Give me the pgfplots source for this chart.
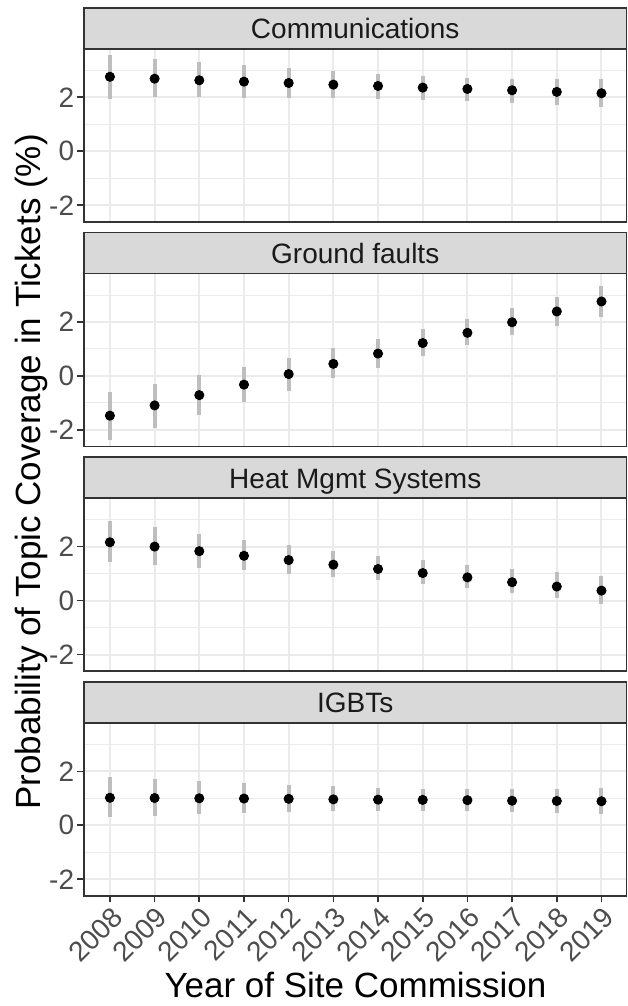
\documentclass[border=0pt]{standalone}
\usepackage{fontspec}
\setmainfont{Liberation Sans}
\usepackage{pgfplots}
\usepackage{pgfplotstable}
\pgfplotsset{compat=1.18}
\definecolor{grey20}{HTML}{333333}
\definecolor{grey30}{HTML}{4D4D4D}
\definecolor{grey10}{HTML}{1A1A1A}
\definecolor{gridgrey}{HTML}{EBEBEB}
\definecolor{stripgrey}{HTML}{D9D9D9}
\definecolor{bargrey}{HTML}{BEBEBE}

% x = year index (1 = 2008), y = estimate, lo/hi = interval ends
\pgfplotstableread{
x y lo hi
1 2.76 1.95 3.56
2 2.69 2.00 3.42
3 2.63 2.00 3.31
4 2.58 1.99 3.19
5 2.53 1.99 3.09
6 2.47 1.98 2.98
7 2.42 1.95 2.88
8 2.36 1.91 2.79
9 2.31 1.85 2.73
10 2.26 1.79 2.69
11 2.20 1.72 2.67
12 2.15 1.63 2.66
}\comms
\pgfplotstableread{
x y lo hi
1 -1.47 -2.39 -0.58
2 -1.09 -1.91 -0.30
3 -0.71 -1.45 0.02
4 -0.32 -0.98 0.35
5 0.07 -0.55 0.68
6 0.45 -0.09 1.03
7 0.83 0.31 1.38
8 1.22 0.75 1.74
9 1.60 1.13 2.11
10 1.99 1.50 2.51
11 2.39 1.84 2.93
12 2.76 2.17 3.35
}\ground
\pgfplotstableread{
x y lo hi
1 2.16 1.43 2.94
2 2.00 1.32 2.73
3 1.83 1.20 2.48
4 1.66 1.12 2.26
5 1.50 0.99 2.06
6 1.33 0.88 1.85
7 1.17 0.76 1.66
8 1.02 0.60 1.49
9 0.86 0.45 1.33
10 0.68 0.27 1.17
11 0.52 0.09 1.06
12 0.37 -0.12 0.92
}\heat
\pgfplotstableread{
x y lo hi
1 1.02 0.30 1.79
2 1.01 0.35 1.72
3 1.00 0.42 1.64
4 0.99 0.47 1.57
5 0.98 0.49 1.51
6 0.96 0.52 1.44
7 0.95 0.52 1.38
8 0.94 0.52 1.36
9 0.93 0.52 1.35
10 0.91 0.48 1.35
11 0.90 0.44 1.36
12 0.89 0.40 1.37
}\igbt

\pgfplotsset{
  panel/.style={
    scale only axis, width=271.25pt, height=86.5pt, anchor=south west,
    xmin=0.42, xmax=12.56, ymin=-2.62, ymax=3.79,
    xtick={1,...,12}, ytick={-2,0,2}, yticklabels={-2,0,2},
    minor ytick={-3,-1,1,3},
    xmajorgrids, ymajorgrids, yminorgrids,
    major grid style={gridgrey, line width=1pt},
    minor grid style={gridgrey, line width=0.5pt},
    axis line style={grey20, line width=0.8pt},
    tick align=outside, tick pos=left,
    major tick length=3.25pt, minor tick length=0pt,
    tick style={grey20, line width=0.8pt},
    yticklabel style={font=\fontsize{14}{16}\selectfont, text=grey30, inner sep=1.5pt},
    clip=false,
  },
  bars/.style={only marks, mark=none, forget plot,
    error bars/.cd, y dir=both, y explicit, error mark=none,
    error bar style={bargrey, line width=2pt}},
  dots/.style={only marks, mark=*, mark size=2.3pt, black, mark options={fill=black, draw=black}},
}

\newcommand{\strip}[2]{%
  \draw[fill=stripgrey, draw=grey20, line width=0.8pt] (#1.north west) rectangle ([yshift=20.5pt]#1.north east);
  \node[anchor=base, text=grey10, font=\fontsize{14}{16}\selectfont, inner sep=0pt]
    at ([yshift=5pt]#1.north) {#2};}

\begin{document}
\begin{tikzpicture}
\useasboundingbox (0,0) rectangle (313.5pt,503pt);

\begin{axis}[panel, name=p1, at={(42pt,392pt)}, xmajorticks=false]
\addplot[bars] table[x=x, y=y, y error plus expr=\thisrow{hi}-\thisrow{y}, y error minus expr=\thisrow{y}-\thisrow{lo}] {\comms};
\addplot[dots] table[x=x, y=y] {\comms};
\end{axis}
\strip{p1}{Communications}

\begin{axis}[panel, name=p2, at={(42pt,279.65pt)}, xmajorticks=false]
\addplot[bars] table[x=x, y=y, y error plus expr=\thisrow{hi}-\thisrow{y}, y error minus expr=\thisrow{y}-\thisrow{lo}] {\ground};
\addplot[dots] table[x=x, y=y] {\ground};
\end{axis}
\strip{p2}{Ground faults}

\begin{axis}[panel, name=p3, at={(42pt,167.35pt)}, xmajorticks=false]
\addplot[bars] table[x=x, y=y, y error plus expr=\thisrow{hi}-\thisrow{y}, y error minus expr=\thisrow{y}-\thisrow{lo}] {\heat};
\addplot[dots] table[x=x, y=y] {\heat};
\end{axis}
\strip{p3}{Heat Mgmt Systems}

\begin{axis}[panel, name=p4, at={(42pt,55pt)},
  xticklabels={2008,2009,2010,2011,2012,2013,2014,2015,2016,2017,2018,2019},
  xticklabel shift=1.2pt,
  xticklabel style={font=\fontsize{14}{16}\selectfont, text=grey30, rotate=45,
    anchor=north east, inner sep=0pt, text height=10pt, text depth=0pt}]
\addplot[bars] table[x=x, y=y, y error plus expr=\thisrow{hi}-\thisrow{y}, y error minus expr=\thisrow{y}-\thisrow{lo}] {\igbt};
\addplot[dots] table[x=x, y=y] {\igbt};
\end{axis}
\strip{p4}{IGBTs}

\node[rotate=90, anchor=base, font=\fontsize{17.5}{20}\selectfont, inner sep=0pt]
  at (20pt,267pt) {Probability of Topic Coverage in Tickets (\%)};
\node[anchor=base, font=\fontsize{17.5}{20}\selectfont, inner sep=0pt]
  at (177.75pt,4.5pt) {Year of Site Commission};
\end{tikzpicture}
\end{document}
